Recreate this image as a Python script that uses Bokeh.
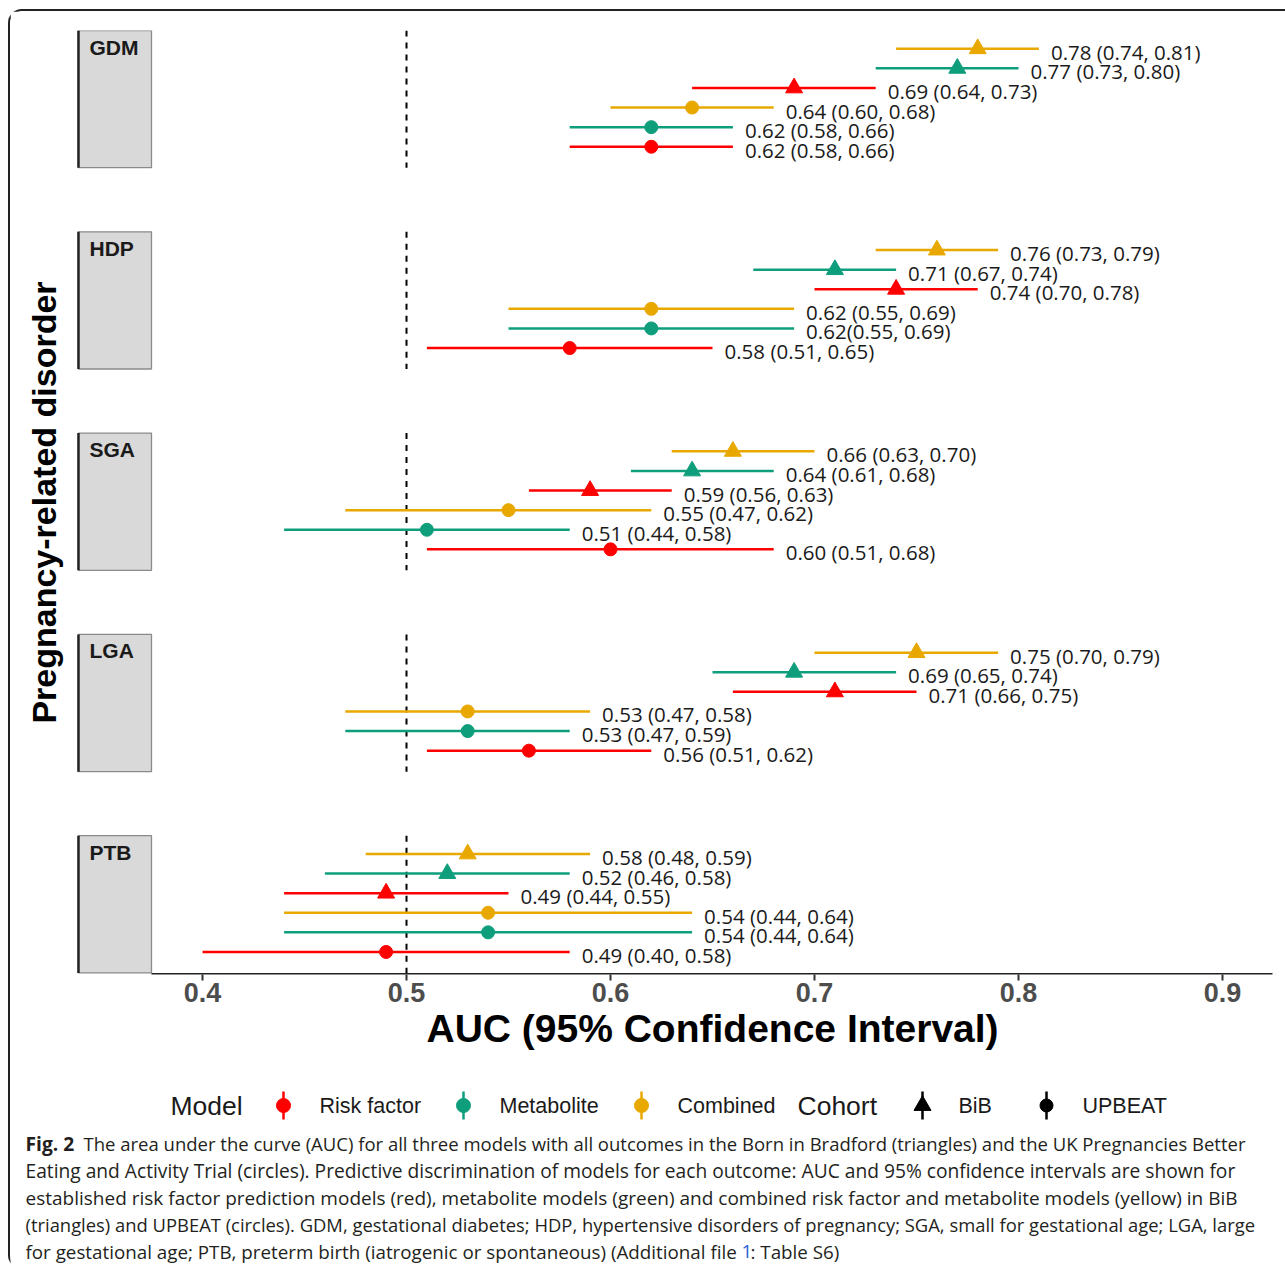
import math
from bokeh.plotting import figure
from bokeh.models import Range1d, FixedTicker, ColumnDataSource, Title
from bokeh.layouts import column
from bokeh.embed import file_html
from bokeh.resources import INLINE
from bokeh.core.properties import value

# ------------------------------------------------------------------ data
outcomes = ["GDM", "HDP", "SGA", "LGA", "PTB"]
# rows inside every panel, top to bottom
row_models = ["Combined", "Metabolite", "Risk factor", "Combined", "Metabolite", "Risk factor"]
row_cohorts = ["BiB", "BiB", "BiB", "UPBEAT", "UPBEAT", "UPBEAT"]

gdm_auc = [0.78, 0.77, 0.69, 0.64, 0.62, 0.62]
gdm_lower = [0.74, 0.73, 0.64, 0.60, 0.58, 0.58]
gdm_upper = [0.81, 0.80, 0.73, 0.68, 0.66, 0.66]
gdm_labels = ["0.78 (0.74, 0.81)", "0.77 (0.73, 0.80)", "0.69 (0.64, 0.73)",
              "0.64 (0.60, 0.68)", "0.62 (0.58, 0.66)", "0.62 (0.58, 0.66)"]

hdp_auc = [0.76, 0.71, 0.74, 0.62, 0.62, 0.58]
hdp_lower = [0.73, 0.67, 0.70, 0.55, 0.55, 0.51]
hdp_upper = [0.79, 0.74, 0.78, 0.69, 0.69, 0.65]
hdp_labels = ["0.76 (0.73, 0.79)", "0.71 (0.67, 0.74)", "0.74 (0.70, 0.78)",
              "0.62 (0.55, 0.69)", "0.62(0.55, 0.69)", "0.58 (0.51, 0.65)"]

sga_auc = [0.66, 0.64, 0.59, 0.55, 0.51, 0.60]
sga_lower = [0.63, 0.61, 0.56, 0.47, 0.44, 0.51]
sga_upper = [0.70, 0.68, 0.63, 0.62, 0.58, 0.68]
sga_labels = ["0.66 (0.63, 0.70)", "0.64 (0.61, 0.68)", "0.59 (0.56, 0.63)",
              "0.55 (0.47, 0.62)", "0.51 (0.44, 0.58)", "0.60 (0.51, 0.68)"]

lga_auc = [0.75, 0.69, 0.71, 0.53, 0.53, 0.56]
lga_lower = [0.70, 0.65, 0.66, 0.47, 0.47, 0.51]
lga_upper = [0.79, 0.74, 0.75, 0.59, 0.58, 0.62]
lga_labels = ["0.75 (0.70, 0.79)", "0.69 (0.65, 0.74)", "0.71 (0.66, 0.75)",
              "0.53 (0.47, 0.58)", "0.53 (0.47, 0.59)", "0.56 (0.51, 0.62)"]

ptb_auc = [0.53, 0.52, 0.49, 0.54, 0.54, 0.49]
ptb_lower = [0.48, 0.46, 0.44, 0.44, 0.44, 0.40]
ptb_upper = [0.59, 0.58, 0.55, 0.64, 0.64, 0.58]
ptb_labels = ["0.58 (0.48, 0.59)", "0.52 (0.46, 0.58)", "0.49 (0.44, 0.55)",
              "0.54 (0.44, 0.64)", "0.54 (0.44, 0.64)", "0.49 (0.40, 0.58)"]

model_names = ["Risk factor", "Metabolite", "Combined"]
model_colors = ["#FF0000", "#0E9E7C", "#E8A800"]
cohort_names = ["BiB", "UPBEAT"]
cohort_markers = ["triangle", "circle"]
x_ticks = [0.4, 0.5, 0.6, 0.7, 0.8, 0.9]
reference_auc = 0.5

caption_bold = "Fig. 2"
caption_lines = [
    "The area under the curve (AUC) for all three models with all outcomes in the Born in Bradford (triangles) and the UK Pregnancies Better",
    "Eating and Activity Trial (circles). Predictive discrimination of models for each outcome: AUC and 95% confidence intervals are shown for",
    "established risk factor prediction models (red), metabolite models (green) and combined risk factor and metabolite models (yellow) in BiB",
    "(triangles) and UPBEAT (circles). GDM, gestational diabetes; HDP, hypertensive disorders of pregnancy; SGA, small for gestational age; LGA, large",
    "for gestational age; PTB, preterm birth (iatrogenic or spontaneous) (Additional file",
]
caption_link = "1"
caption_tail = ": Table S6)"

# ------------------------------------------------------------------ layout constants
OX, OY = 10, 11            # page position of the content box
W = 1275
CHART_H = 1059
BOTTOM_H = 1258 - CHART_H
X_START, X_END = 0.30588, 0.93088      # frame spans the full width
STRIP_L, STRIP_R = 0.3392, 0.375
YTITLE_X = 0.3225
PANEL_STEP = 10.27
PANEL_H = 7.0
ROW0 = 0.93
Y_MAX = 48.16

auc_sets = [gdm_auc, hdp_auc, sga_auc, lga_auc, ptb_auc]
low_sets = [gdm_lower, hdp_lower, sga_lower, lga_lower, ptb_lower]
up_sets = [gdm_upper, hdp_upper, sga_upper, lga_upper, ptb_upper]
lab_sets = [gdm_labels, hdp_labels, sga_labels, lga_labels, ptb_labels]

rows = dict(x=[], lo=[], hi=[], y=[], color=[], marker=[], size=[], label=[])
for k, name in enumerate(outcomes):
    top = k * PANEL_STEP
    for r in range(6):
        ci = model_names.index(row_models[r])
        co = cohort_names.index(row_cohorts[r])
        rows["x"].append(auc_sets[k][r])
        rows["lo"].append(low_sets[k][r])
        rows["hi"].append(up_sets[k][r])
        rows["y"].append(top + ROW0 + r)
        rows["color"].append(model_colors[ci])
        rows["marker"].append(cohort_markers[co])
        rows["size"].append(17 if cohort_markers[co] == "triangle" else 13)
        rows["label"].append(lab_sets[k][r])
src = ColumnDataSource(rows)

panel_tops = [k * PANEL_STEP for k in range(len(outcomes))]
panel_bottoms = [t + PANEL_H for t in panel_tops]

# ------------------------------------------------------------------ main chart
p = figure(width=W, height=CHART_H, x_range=Range1d(X_START, X_END),
           y_range=Range1d(Y_MAX, 0), toolbar_location=None, y_axis_location=None,
           output_backend="svg", min_border_left=0, min_border_right=0,
           min_border_top=30 - OY, min_border_bottom=CHART_H - (974 - OY),
           outline_line_color=None,
           background_fill_color="white", border_fill_color="white")
p.xgrid.visible = False
p.ygrid.visible = False

# y title
p.text(x=[YTITLE_X], y=[Y_MAX / 2], text=["Pregnancy-related disorder"], angle=math.pi / 2,
       text_align="center", text_baseline="middle", text_font=value("Liberation Sans"),
       text_font_style="bold", text_font_size="34px", text_color="black")

# strips
p.quad(left=STRIP_L, right=STRIP_R, top=panel_tops, bottom=panel_bottoms,
       fill_color="#D9D9D9", line_color="#8a8a8a", line_width=1.3)
p.segment(x0=STRIP_L, x1=STRIP_L, y0=panel_tops, y1=panel_bottoms,
          line_color="#222222", line_width=2.5)
p.text(x=STRIP_L, y=panel_tops, text=outcomes, x_offset=11, y_offset=5,
       text_baseline="top", text_align="left", text_font=value("Liberation Sans"),
       text_font_style="bold", text_font_size="21px", text_color="#1a1a1a")

# reference line at 0.5 in each panel
p.segment(x0=reference_auc, x1=reference_auc, y0=panel_tops, y1=panel_bottoms,
          line_color="black", line_width=2, line_dash="6 6")

# bottom axis line (starts at right edge of strips)
p.segment(x0=[STRIP_R], x1=[0.9245], y0=[Y_MAX - 0.03], y1=[Y_MAX - 0.03],
          line_color="#222222", line_width=2)

# intervals, points, labels
p.segment(x0="lo", x1="hi", y0="y", y1="y", line_color="color", line_width=2.5, source=src)
p.scatter(x="x", y="y", marker="marker", size="size", fill_color="color",
          line_color="color", source=src)
p.text(x="hi", y="y", text="label", x_offset=12, y_offset=3, text_baseline="middle",
       text_font=value("Open Sans"), text_font_size="20.5px", text_color="#1a1a1a",
       source=src)

xa = p.xaxis[0]
xa.ticker = FixedTicker(ticks=x_ticks)
xa.axis_line_color = None
xa.major_tick_line_color = "#333333"
xa.major_tick_line_width = 2
xa.major_tick_out = 6
xa.major_tick_in = 0
xa.minor_tick_line_color = None
xa.major_label_standoff = 2
xa.major_label_text_font = "Liberation Sans"
xa.major_label_text_font_style = "bold"
xa.major_label_text_font_size = "27px"
xa.major_label_text_color = "#4d4d4d"

p.add_layout(Title(text="AUC (95% Confidence Interval)", align="left", offset=426 - OX,
                   standoff=0, text_font="Liberation Sans", text_font_style="bold",
                   text_font_size="39px", text_color="black"), "below")

# ------------------------------------------------------------------ legend + caption
B_TOP = OY + CHART_H
B_BOT = B_TOP + BOTTOM_H
bot = figure(width=W, height=BOTTOM_H, x_range=Range1d(OX, OX + W), y_range=Range1d(B_BOT, B_TOP),
             toolbar_location=None, x_axis_type=None, y_axis_type=None,
             output_backend="svg", min_border=0, outline_line_color=None)

LEG_Y = 1105
model_key_x = [283, 463, 641]
model_lab_x = [319, 499, 677]
cohort_key_x = [922, 1046]
cohort_lab_x = [958, 1082]
bot.text(x=[170, 797], y=[LEG_Y, LEG_Y], text=["Model", "Cohort"], text_baseline="middle",
         text_font=value("Liberation Sans"), text_font_size="26.5px", text_color="#1a1a1a")
bot.segment(x0=model_key_x + cohort_key_x, x1=model_key_x + cohort_key_x,
            y0=LEG_Y - 14, y1=LEG_Y + 14,
            line_color=model_colors + ["black", "black"], line_width=2.5)
bot.scatter(x=model_key_x + cohort_key_x, y=LEG_Y,
            marker=["circle", "circle", "circle"] + cohort_markers,
            size=[14, 14, 14, 17, 13],
            fill_color=model_colors + ["black", "black"],
            line_color=model_colors + ["black", "black"])
bot.text(x=model_lab_x + cohort_lab_x, y=LEG_Y, text=model_names + cohort_names,
         text_baseline="middle", text_font=value("Liberation Sans"),
         text_font_size="21.5px", text_color="#1a1a1a")

line_y = [1143, 1170, 1197, 1224, 1251]
line_fs = ["18.5px", "19.2px", "19.0px", "18.4px", "18.8px"]
bot.text(x=[25], y=[line_y[0]], text=[caption_bold], text_baseline="middle",
         text_font=value("Open Sans"), text_font_style="bold", text_font_size="19.2px",
         text_color="#231f20")
cap_src = ColumnDataSource(dict(x=[83, 25, 25, 25, 25], y=line_y, text=caption_lines, fs=line_fs))
bot.text(x="x", y="y", text="text", text_font_size="fs", text_baseline="middle",
         text_font=value("Open Sans"), text_color="#231f20", source=cap_src)
bot.text(x=[741], y=[line_y[4]], text=[caption_link], text_baseline="middle",
         text_font=value("Open Sans"), text_font_size="18.8px", text_color="#2a62d6")
bot.text(x=[750], y=[line_y[4]], text=[caption_tail], text_baseline="middle",
         text_font=value("Open Sans"), text_font_size="18.8px", text_color="#231f20")

layout = column(p, bot, styles={
    "margin-left": "8px",
    "margin-top": "9px",
    "border-top": "2px solid #222",
    "border-left": "2px solid #222",
    "border-top-left-radius": "14px",
    "border-bottom-left-radius": "14px",
})

open("out.html", "w").write(file_html(layout, INLINE))
